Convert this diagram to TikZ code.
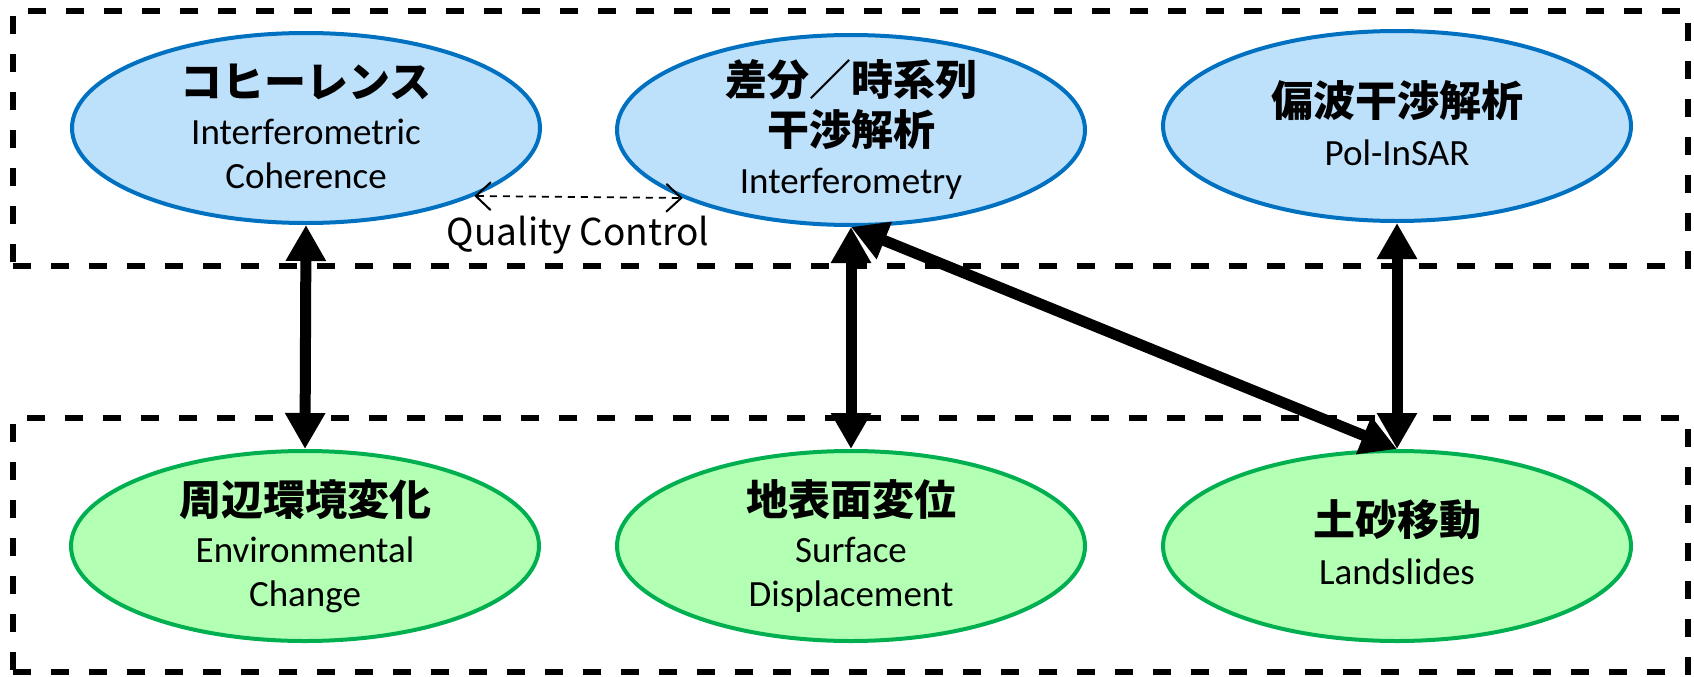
\documentclass[tikz,border=0pt]{standalone}
\usepackage{fontspec}
\setmainfont{Carlito}
\newfontfamily\jpfont{Noto Sans CJK JP}
\usetikzlibrary{arrows.meta,shapes.geometric}

\definecolor{ellblue}{HTML}{0070C0}
\definecolor{fillblue}{HTML}{BDE0FB}
\definecolor{ellgreen}{HTML}{00B050}
\definecolor{fillgreen}{HTML}{B3FFB3}

\tikzset{
  groupbox/.style={draw=black, line width=6pt, dash pattern=on 18pt off 20pt, inner sep=0pt},
  method/.style={ellipse, draw=ellblue, fill=fillblue, line width=4pt, inner sep=0pt,
                 minimum width=468pt, minimum height=190pt},
  target/.style={ellipse, draw=ellgreen, fill=fillgreen, line width=4pt, inner sep=0pt,
                 minimum width=468pt, minimum height=190pt},
  jptitle/.style={font=\jpfont\bfseries\fontsize{42}{50}\selectfont, inner sep=0pt, anchor=center},
  entext/.style={font=\fontsize{37}{44}\selectfont, inner sep=0pt, anchor=base},
  qclabel/.style={font=\jpfont\fontsize{37}{44}\selectfont, inner sep=0pt, anchor=base},
  link/.style={line width=11pt, {Triangle[length=36pt,width=38pt]}-{Triangle[length=36pt,width=38pt]}},
  qcarrow/.style={line width=1.8pt, dash pattern=on 7pt off 6pt,
                  {Straight Barb[length=15pt,width=28pt,line width=2pt]}-{Straight Barb[length=15pt,width=28pt,line width=2pt]}}
}

\begin{document}
\begin{tikzpicture}[x=1pt, y=-1pt]
  \useasboundingbox (0,0) rectangle (1694,677);

  % group frames
  \node[groupbox, minimum width=1675pt, minimum height=255pt] (analysis) at (850.5,138.5) {};
  \node[groupbox, minimum width=1675pt, minimum height=254pt] (phenomena) at (850.5,545) {};

  % analysis methods
  \node[method] (coh)  at (306,128) {};
  \node[method] (intf) at (851,130) {};
  \node[method] (pol)  at (1397,126) {};

  % observed phenomena
  \node[target] (env)  at (305,546) {};
  \node[target] (surf) at (851,546) {};
  \node[target] (land) at (1397,546) {};

  % labels of the methods
  \node[jptitle] (cohJ) at (306,82) {コヒーレンス};
  \node[entext] (cohE1) at (306,144) {Interferometric};
  \node[entext] (cohE2) at (306,188) {Coherence};

  \node[jptitle] (intfJ1) at (851,80) {差分／時系列};
  \node[jptitle] (intfJ2) at (851,130) {干渉解析};
  \node[entext] (intfE) at (851,193) {Interferometry};

  \node[jptitle] (polJ) at (1397,101) {偏波干渉解析};
  \node[entext] (polE) at (1397,165) {Pol-InSAR};

  % labels of the phenomena
  \node[jptitle] (envJ) at (305,500) {周辺環境変化};
  \node[entext] (envE1) at (305,562) {Environmental};
  \node[entext] (envE2) at (305,606) {Change};

  \node[jptitle] (surfJ) at (851,500) {地表面変位};
  \node[entext] (surfE1) at (851,562) {Surface};
  \node[entext] (surfE2) at (851,606) {Displacement};

  \node[jptitle] (landJ) at (1397,520) {土砂移動};
  \node[entext] (landE) at (1397,584) {Landslides};

  % links between methods and phenomena
  \draw[link] (coh.south) -- (env.north);
  \draw[link] (intf.south) -- (surf.north);
  \draw[link] (pol.south) -- (land.north);
  \draw[link] (intf.south) -- (land.north);

  % quality control between coherence and interferometry
  \draw[qcarrow] (coh.-22.6) -- (intf.-158.5);
  \node[qclabel] (qc) at (578,245) {Quality Control};
\end{tikzpicture}
\end{document}
